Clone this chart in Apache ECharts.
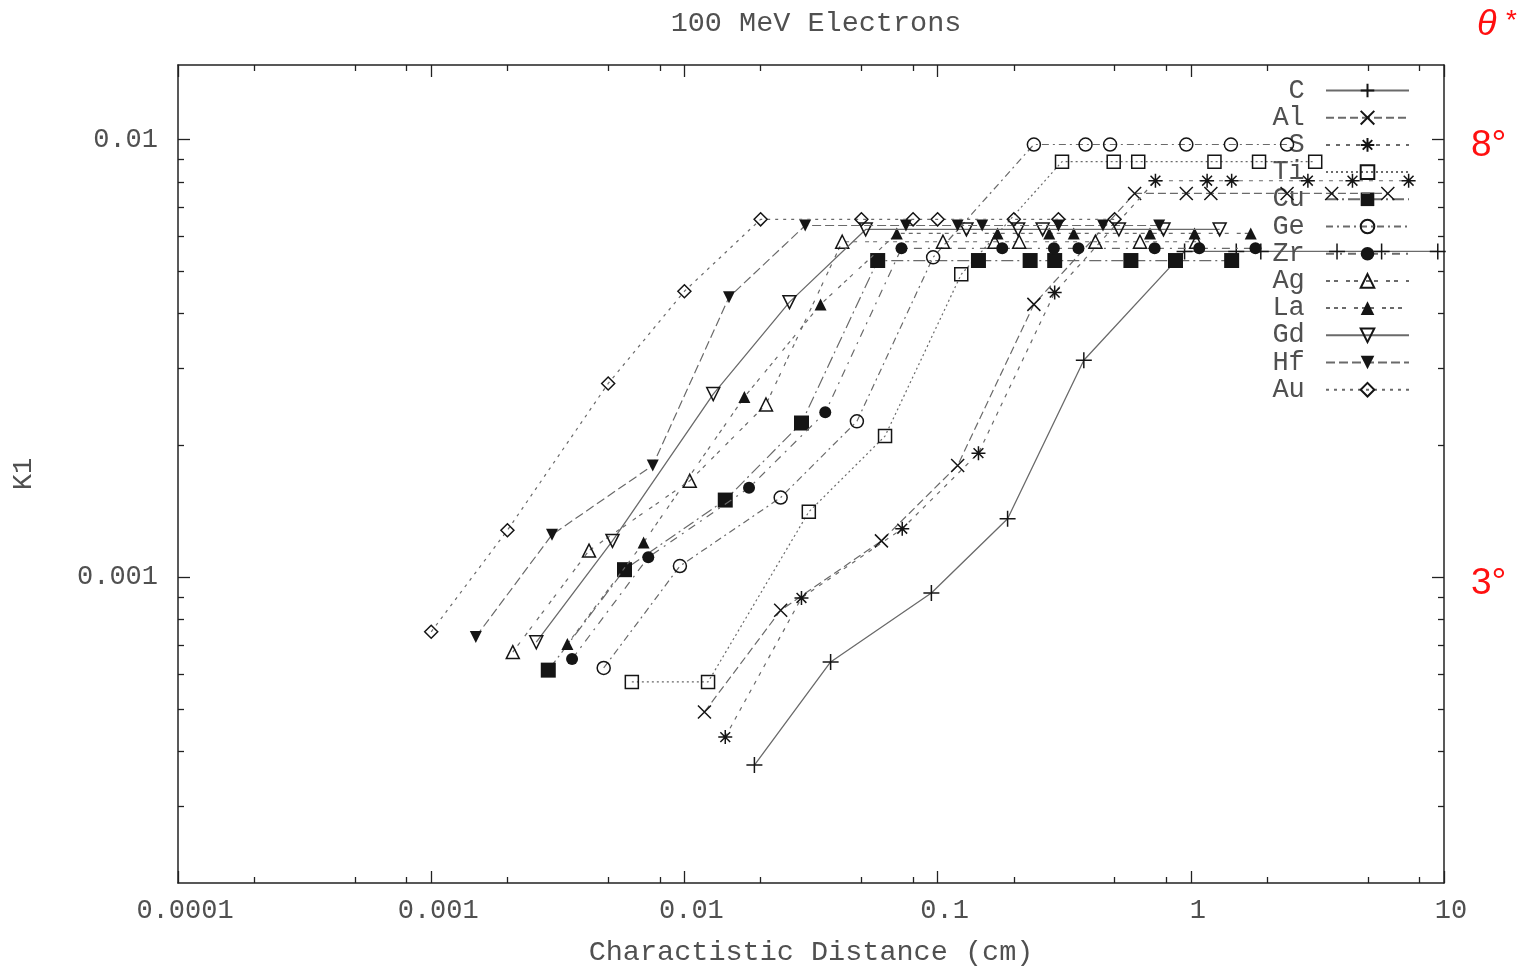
<!DOCTYPE html>
<html>
<head>
<meta charset="utf-8">
<title>100 MeV Electrons</title>
<script src="https://cdn.jsdelivr.net/npm/echarts@6/dist/echarts.min.js"></script>
<style>
  html, body { margin: 0; padding: 0; background: #fff; }
  #chart { width: 1527px; height: 966px; }
</style>
</head>
<body>
<div id="chart"></div>
<script>
// K1 versus characteristic distance for 100 MeV electrons, one curve per target element.

const elements = ['C', 'Al', 'S', 'Ti', 'Cu', 'Ge', 'Zr', 'Ag', 'La', 'Gd', 'Hf', 'Au'];

// characteristic distance (cm) and K1 for each element
const distC  = [0.0189, 0.0378, 0.0945, 0.189, 0.378, 0.945, 1.512, 1.89, 3.78, 5.67, 9.45];
const k1C    = [0.000372, 0.00064, 0.00092, 0.00136, 0.00313, 0.00555, 0.00555, 0.00555, 0.00555, 0.00555, 0.00555];

const distAl = [0.012, 0.024, 0.06, 0.12, 0.24, 0.6, 0.96, 1.2, 2.4, 3.6, 6.0];
const k1Al   = [0.000492, 0.00084, 0.00121, 0.0018, 0.0042, 0.00753, 0.00753, 0.00753, 0.00753, 0.00753, 0.00753];

const distS  = [0.0145, 0.029, 0.0725, 0.145, 0.29, 0.725, 1.16, 1.45, 2.9, 4.35, 7.25];
const k1S    = [0.000431, 0.000896, 0.00129, 0.00192, 0.00447, 0.00805, 0.00805, 0.00805, 0.00805, 0.00805, 0.00805];

const distTi = [0.0062, 0.0124, 0.031, 0.062, 0.124, 0.31, 0.496, 0.62, 1.24, 1.86, 3.1];
const k1Ti   = [0.000576, 0.000576, 0.00141, 0.0021, 0.00492, 0.0089, 0.0089, 0.0089, 0.0089, 0.0089, 0.0089];

const distCu = [0.0029, 0.0058, 0.0145, 0.029, 0.058, 0.145, 0.232, 0.29, 0.58, 0.87, 1.45];
const k1Cu   = [0.000613, 0.00104, 0.0015, 0.00225, 0.00529, 0.00529, 0.00529, 0.00529, 0.00529, 0.00529, 0.00529];

const distGe = [0.0048, 0.0096, 0.024, 0.048, 0.096, 0.24, 0.384, 0.48, 0.96, 1.44, 2.4];
const k1Ge   = [0.00062, 0.00106, 0.00152, 0.00227, 0.00538, 0.00974, 0.00974, 0.00974, 0.00974, 0.00974, 0.00974];

const distZr = [0.0036, 0.0072, 0.018, 0.036, 0.072, 0.18, 0.288, 0.36, 0.72, 1.08, 1.8];
const k1Zr   = [0.00065, 0.00111, 0.0016, 0.00238, 0.00564, 0.00564, 0.00564, 0.00564, 0.00564, 0.00564, 0.00564];

const distAg = [0.0021, 0.0042, 0.0105, 0.021, 0.042, 0.105, 0.168, 0.21, 0.42, 0.63, 1.05];
const k1Ag   = [0.000674, 0.00115, 0.00166, 0.00248, 0.00584, 0.00584, 0.00584, 0.00584, 0.00584, 0.00584, 0.00584];

const distLa = [0.00345, 0.0069, 0.01725, 0.0345, 0.069, 0.1725, 0.276, 0.345, 0.69, 1.035, 1.725];
const k1La   = [0.000703, 0.0012, 0.00258, 0.0042, 0.0061, 0.0061, 0.0061, 0.0061, 0.0061, 0.0061, 0.0061];

const distGd = [0.0026, 0.0052, 0.013, 0.026, 0.052, 0.13, 0.208, 0.26, 0.52, 0.78, 1.3];
const k1Gd   = [0.00071, 0.00121, 0.00262, 0.00425, 0.00623, 0.00623, 0.00623, 0.00623, 0.00623, 0.00623, 0.00623];

const distHf = [0.0015, 0.003, 0.0075, 0.015, 0.03, 0.075, 0.12, 0.15, 0.3, 0.45, 0.75];
const k1Hf   = [0.00073, 0.00125, 0.0018, 0.00436, 0.00636, 0.00636, 0.00636, 0.00636, 0.00636, 0.00636, 0.00636];

const distAu = [0.001, 0.002, 0.005, 0.01, 0.02, 0.05, 0.08, 0.1, 0.2, 0.3, 0.5];
const k1Au   = [0.00075, 0.00128, 0.00277, 0.0045, 0.00657, 0.00657, 0.00657, 0.00657, 0.00657, 0.00657, 0.00657];

const distances = [distC, distAl, distS, distTi, distCu, distGe, distZr, distAg, distLa, distGd, distHf, distAu];
const k1Values  = [k1C, k1Al, k1S, k1Ti, k1Cu, k1Ge, k1Zr, k1Ag, k1La, k1Gd, k1Hf, k1Au];

// axis ranges and tick positions
const xRange = [0.0001, 10];
const yRange = [0.0002, 0.0148];
const xMajorTicks = [0.0001, 0.001, 0.01, 0.1, 1, 10];
const xMinorTicks = [0.0002, 0.0005, 0.0008, 0.002, 0.005, 0.008, 0.02, 0.05, 0.08,
                     0.2, 0.5, 0.8, 2, 5, 8];
const yMajorTicks = [0.001, 0.01];
const yMinorTicks = [0.0003, 0.0004, 0.0005, 0.0006, 0.0007, 0.0008, 0.0009,
                     0.002, 0.003, 0.004, 0.005, 0.006, 0.007, 0.008, 0.009];

// point / line styles, gnuplot-like
const PLUS  = 'path://M5,0L5,10M0,5L10,5';
const CROSS = 'path://M0,0L10,10M10,0L0,10';
const STAR  = 'path://M5,0L5,10M0,5L10,5M1.5,1.5L8.5,8.5M8.5,1.5L1.5,8.5';
const seriesStyles = [
  { symbol: PLUS,       size: 16, filled: false, dash: 'solid' },
  { symbol: CROSS,      size: 13, filled: false, dash: [8, 4] },
  { symbol: STAR,       size: 14, filled: false, dash: [4, 6] },
  { symbol: 'rect',     size: 13, filled: false, dash: [2, 3] },
  { symbol: 'rect',     size: 15, filled: true,  dash: [12, 4, 2, 4] },
  { symbol: 'circle',   size: 13, filled: false, dash: [7, 4, 2, 4] },
  { symbol: 'circle',   size: 12, filled: true,  dash: [8, 6, 2, 6] },
  { symbol: 'triangle', size: 13, filled: false, dash: [4, 4, 4, 8] },
  { symbol: 'triangle', size: 12, filled: true,  dash: [4, 4, 4, 4, 4, 8] },
  { symbol: 'triangle', size: 13, filled: false, dash: 'solid', rotate: 180 },
  { symbol: 'triangle', size: 12, filled: true,  dash: [9, 4], rotate: 180 },
  { symbol: 'diamond',  size: 13, filled: false, dash: [3, 5] }
];

const MONO = '"Liberation Mono", "DejaVu Sans Mono", monospace';
const INK = '#151515';
const LINE = '#6a6a6a';
const TEXT = '#505050';
const frameLine = { show: true, onZero: false, lineStyle: { color: '#222', width: 1.5 } };
const numFmt = v => String(+Number(v).toPrecision(6));

function axis(kind, position, major) {
  const range = kind === 'x' ? xRange : yRange;
  const ticks = kind === 'x' ? (major ? xMajorTicks : xMinorTicks) : (major ? yMajorTicks : yMinorTicks);
  const primary = major && (position === 'bottom' || position === 'left');
  const a = {
    type: 'log', logBase: 10, min: range[0], max: range[1], position,
    axisLine: major ? frameLine : { show: false, onZero: false },
    axisTick: { show: true, inside: true, length: major ? 12 : 6, customValues: ticks,
                lineStyle: { color: '#222', width: 1.3 } },
    axisLabel: { show: primary, customValues: ticks, formatter: numFmt,
                 fontFamily: MONO, fontSize: 27, color: TEXT },
    splitLine: { show: false },
    minorTick: { show: false }
  };
  if (primary && kind === 'x') {
    a.axisLabel.margin = 14;
    a.axisLabel.padding = [0, 0, 0, 14];
    a.name = 'Charactistic Distance (cm)';
    a.nameLocation = 'middle';
    a.nameGap = 55;
    a.nameTextStyle = { fontFamily: MONO, fontSize: 28.5, color: TEXT };
  }
  if (primary && kind === 'y') {
    a.axisLabel.margin = 20;
    a.name = 'K1';
    a.nameLocation = 'middle';
    a.nameRotate = 90;
    a.nameGap = 141;
    a.nameTextStyle = { fontFamily: MONO, fontSize: 27, color: TEXT };
  }
  return a;
}

const series = elements.map((name, i) => {
  const st = seriesStyles[i];
  return {
    name, type: 'line',
    xAxisIndex: 0, yAxisIndex: 0,
    data: distances[i].map((d, j) => [d, k1Values[i][j]]),
    symbol: st.symbol, symbolSize: st.size, symbolRotate: st.rotate || 0,
    showSymbol: true, showAllSymbol: true,
    lineStyle: { color: LINE, width: st.dash === 'solid' ? 1.3 : 1.2, type: st.dash },
    itemStyle: st.filled
      ? { color: INK, borderWidth: 0 }
      : { color: 'none', borderColor: INK, borderWidth: 1.5 },
    emphasis: { disabled: true },
    z: 3 + i
  };
});

const chart = echarts.init(document.getElementById('chart'), null, { renderer: 'canvas' });
chart.setOption({
  animation: false,
  backgroundColor: '#fff',
  title: {
    text: '100 MeV Electrons', left: 811, top: 4, textAlign: 'center',
    textStyle: { fontFamily: MONO, fontSize: 28.5, fontWeight: 'normal', color: TEXT }
  },
  grid: { left: 178, right: 83, top: 65, bottom: 83, containLabel: false, outerBoundsMode: 'none' },
  xAxis: [axis('x', 'bottom', true), axis('x', 'bottom', false), axis('x', 'top', true), axis('x', 'top', false)],
  yAxis: [axis('y', 'left', true), axis('y', 'left', false), axis('y', 'right', true), axis('y', 'right', false)],
  legend: {
    orient: 'vertical', right: 117, top: 77, align: 'right', padding: 0,
    itemWidth: 83, itemHeight: 17, itemGap: 0.2, selectedMode: false,
    data: elements,
    formatter: n => n.padStart(2, ' ') + ' ',
    textStyle: { fontFamily: MONO, fontSize: 27, color: TEXT, lineHeight: 27 }
  },
  graphic: [
    { type: 'text', x: 1477, y: 7, z: 10,
      style: { text: 'θ', fill: '#ff1010', font: 'italic 36px "Liberation Sans", Arial, sans-serif' } },
    { type: 'text', x: 1506, y: 7, z: 10,
      style: { text: '*', fill: '#ff1010', font: '28px "Liberation Sans", Arial, sans-serif' } },
    { type: 'text', x: 1471, y: 146, z: 10,
      style: { text: '8°', fill: '#ff1010', verticalAlign: 'middle', font: '37px "Liberation Sans", Arial, sans-serif' } },
    { type: 'text', x: 1471, y: 584, z: 10,
      style: { text: '3°', fill: '#ff1010', verticalAlign: 'middle', font: '37px "Liberation Sans", Arial, sans-serif' } }
  ],
  series
});
</script>
</body>
</html>
